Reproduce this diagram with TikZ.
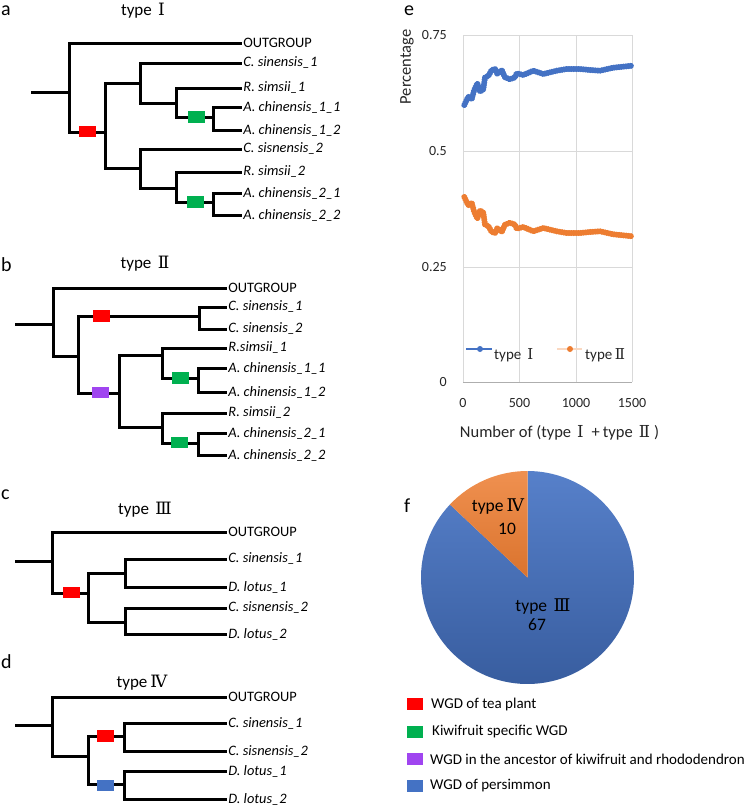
\documentclass[tikz,border=0pt]{standalone}
\usepackage{fontspec}
\setmainfont{Carlito}
\newfontfamily\romfont{DejaVu Serif}
\usetikzlibrary{decorations.markings}
\definecolor{wred}{HTML}{FF0000}
\definecolor{wgreen}{HTML}{00B050}
\definecolor{wpurple}{HTML}{A045F0}
\definecolor{wblue}{HTML}{4472C4}
\definecolor{cblue}{HTML}{4472C4}
\definecolor{corange}{HTML}{ED7D31}
\definecolor{gridc}{HTML}{D9D9D9}
\definecolor{txtc}{HTML}{262626}
\newcommand{\rI}{{\romfont\kern2.5pt Ⅰ}}
\newcommand{\rII}{{\romfont\kern2.5pt Ⅱ}}
\newcommand{\rIII}{{\romfont\kern2.5pt Ⅲ}}
\newcommand{\rIV}{{\romfont\kern3pt Ⅳ}}
\tikzset{
  edge/.style={line width=3pt, line join=miter},
  leaf/.style={anchor=west, inner sep=1.2pt, font=\fontsize{14.4}{16}\selectfont\itshape},
  leafup/.style={anchor=west, inner sep=1.2pt, font=\fontsize{14.4}{16}\selectfont},
  wgdbox/.style={draw=none, minimum width=17pt, minimum height=11.5pt, inner sep=0pt},
  panel/.style={anchor=west, inner sep=0pt, font=\fontsize{20}{22}\selectfont},
  ttl/.style={inner sep=0pt, font=\fontsize{17}{20}\selectfont},
  tick/.style={inner sep=0pt, text=txtc, font=\fontsize{14}{16}\selectfont},
  axtitle/.style={inner sep=0pt, text=txtc, font=\fontsize{16.5}{18}\selectfont},
  legtxt/.style={anchor=west, inner sep=0pt, font=\fontsize{15}{17}\selectfont},
  pielab/.style={inner sep=0pt, font=\fontsize{17.5}{20}\selectfont, align=center},
  dots/.style 2 args={postaction={decorate}, decoration={markings,
     mark=between positions 0 and 1 step #2 with {\fill[#1] (0,0) circle (3pt);}}}
}
\begin{document}
\begin{tikzpicture}[x=1pt, y=-1pt]
\useasboundingbox (0,0) rectangle (745,807);
\fill[white] (0,0) rectangle (745,807);

% ---------------- tree a ----------------
\node[panel] (la) at (1,11) {a};
\node[ttl] (ta) at (143,11) {type \rI};
\coordinate (a0) at (31,92);
\coordinate (aR) at (69,92);
\coordinate (aN1) at (105,132);
\coordinate (aN2) at (140,83);
\coordinate (aN3) at (176,103);
\coordinate (aN4) at (213,117);
\coordinate (aN5) at (140,168);
\coordinate (aN6) at (176,188);
\coordinate (aN7) at (213,202);
\node[leafup] (aOG) at (242,43) {OUTGROUP};
\node[leaf] (aCs1) at (242,63) {C. sinensis\_1};
\node[leaf] (aRs1) at (242,88) {R. simsii\_1};
\node[leaf] (aAc11) at (242,107) {A. chinensis\_1\_1};
\node[leaf] (aAc12) at (242,130) {A. chinensis\_1\_2};
\node[leaf] (aCs2) at (242,149) {C. sisnensis\_2};
\node[leaf] (aRs2) at (242,172) {R. simsii\_2};
\node[leaf] (aAc21) at (242,193) {A. chinensis\_2\_1};
\node[leaf] (aAc22) at (242,215) {A. chinensis\_2\_2};
\draw[edge] (a0) -- (aR);
\draw[edge] (aR) |- (aOG.west);
\draw[edge] (aR) |- (aN1);
\draw[edge] (aN1) |- (aN2);
\draw[edge] (aN1) |- (aN5);
\draw[edge] (aN2) |- (aCs1.west);
\draw[edge] (aN2) |- (aN3);
\draw[edge] (aN3) |- (aRs1.west);
\draw[edge] (aN3) |- (aN4);
\draw[edge] (aN4) |- (aAc11.west);
\draw[edge] (aN4) |- (aAc12.west);
\draw[edge] (aN5) |- (aCs2.west);
\draw[edge] (aN5) |- (aN6);
\draw[edge] (aN6) |- (aRs2.west);
\draw[edge] (aN6) |- (aN7);
\draw[edge] (aN7) |- (aAc21.west);
\draw[edge] (aN7) |- (aAc22.west);
\node[wgdbox, fill=wred] (aB1) at (87.5,131.5) {};
\node[wgdbox, fill=wgreen] (aB2) at (196.5,117) {};
\node[wgdbox, fill=wgreen] (aB3) at (195.5,202) {};

% ---------------- tree b ----------------
\node[panel] (lb) at (1,265) {b};
\node[ttl] (tb) at (145,264) {type \rII};
\coordinate (b0) at (15,324);
\coordinate (bR) at (53,324);
\coordinate (bN1) at (78,356);
\coordinate (bN2) at (199,316);
\coordinate (bN3) at (119,393);
\coordinate (bN4) at (162,355);
\coordinate (bN5) at (198,378);
\coordinate (bN6) at (162,427);
\coordinate (bN7) at (198,443);
\node[leafup] (bOG) at (227,288) {OUTGROUP};
\node[leaf] (bCs1) at (227,307) {C. sinensis\_1};
\node[leaf] (bCs2) at (227,329) {C. sinensis\_2};
\node[leaf] (bRs1) at (227,348) {R.simsii\_1};
\node[leaf] (bAc11) at (227,368) {A. chinensis\_1\_1};
\node[leaf] (bAc12) at (227,392) {A. chinensis\_1\_2};
\node[leaf] (bRs2) at (227,413) {R. simsii\_2};
\node[leaf] (bAc21) at (227,433) {A. chinensis\_2\_1};
\node[leaf] (bAc22) at (227,455) {A. chinensis\_2\_2};
\draw[edge] (b0) -- (bR);
\draw[edge] (bR) |- (bOG.west);
\draw[edge] (bR) |- (bN1);
\draw[edge] (bN1) |- (bN2);
\draw[edge] (bN1) |- (bN3);
\draw[edge] (bN2) |- (bCs1.west);
\draw[edge] (bN2) |- (bCs2.west);
\draw[edge] (bN3) |- (bN4);
\draw[edge] (bN3) |- (bN6);
\draw[edge] (bN4) |- (bRs1.west);
\draw[edge] (bN4) |- (bN5);
\draw[edge] (bN5) |- (bAc11.west);
\draw[edge] (bN5) |- (bAc12.west);
\draw[edge] (bN6) |- (bRs2.west);
\draw[edge] (bN6) |- (bN7);
\draw[edge] (bN7) |- (bAc21.west);
\draw[edge] (bN7) |- (bAc22.west);
\node[wgdbox, fill=wred] (bB1) at (101.5,316) {};
\node[wgdbox, fill=wpurple] (bB2) at (100,392.5) {};
\node[wgdbox, fill=wgreen] (bB3) at (180,378) {};
\node[wgdbox, fill=wgreen] (bB4) at (179,442.5) {};

% ---------------- tree c ----------------
\node[panel] (lc) at (1,495) {c};
\node[ttl] (tc) at (145,510) {type \rIII};
\coordinate (c0) at (15,561);
\coordinate (cR) at (52,561);
\coordinate (cN1) at (88,593);
\coordinate (cN2) at (125,573);
\coordinate (cN3) at (125,622);
\node[leafup] (cOG) at (227,532) {OUTGROUP};
\node[leaf] (cCs1) at (227,559) {C. sinensis\_1};
\node[leaf] (cDl1) at (227,587) {D. lotus\_1};
\node[leaf] (cCs2) at (227,608) {C. sisnensis\_2};
\node[leaf] (cDl2) at (227,634) {D. lotus\_2};
\draw[edge] (c0) -- (cR);
\draw[edge] (cR) |- (cOG.west);
\draw[edge] (cR) |- (cN1);
\draw[edge] (cN1) |- (cN2);
\draw[edge] (cN1) |- (cN3);
\draw[edge] (cN2) |- (cCs1.west);
\draw[edge] (cN2) |- (cDl1.west);
\draw[edge] (cN3) |- (cCs2.west);
\draw[edge] (cN3) |- (cDl2.west);
\node[wgdbox, fill=wred] (cB1) at (71.5,592.5) {};

% ---------------- tree d ----------------
\node[panel] (ld) at (1,662) {d};
\node[ttl] (td) at (142,683) {type\rIV};
\coordinate (d0) at (15,725);
\coordinate (dR) at (52,725);
\coordinate (dN1) at (88,756);
\coordinate (dN2) at (124,736);
\coordinate (dN3) at (124,784);
\node[leafup] (dOG) at (227,697) {OUTGROUP};
\node[leaf] (dCs1) at (227,723) {C. sinensis\_1};
\node[leaf] (dCs2) at (227,751) {C. sisnensis\_2};
\node[leaf] (dDl1) at (227,771) {D. lotus\_1};
\node[leaf] (dDl2) at (227,799) {D. lotus\_2};
\draw[edge] (d0) -- (dR);
\draw[edge] (dR) |- (dOG.west);
\draw[edge] (dR) |- (dN1);
\draw[edge] (dN1) |- (dN2);
\draw[edge] (dN1) |- (dN3);
\draw[edge] (dN2) |- (dCs1.west);
\draw[edge] (dN2) |- (dCs2.west);
\draw[edge] (dN3) |- (dDl1.west);
\draw[edge] (dN3) |- (dDl2.west);
\node[wgdbox, fill=wred] (dB1) at (105.5,736) {};
\node[wgdbox, fill=wblue] (dB2) at (105,785.5) {};

% ---------------- chart e ----------------
\node[panel] (le) at (404,11) {e};
\foreach \gx in {463,519.5,576,632} \draw[gridc, line width=0.8pt] (\gx,35) -- (\gx,382);
\foreach \gy in {35,151,267} \draw[gridc, line width=0.8pt] (463,\gy) -- (632,\gy);
\draw[gridc!80!black, line width=0.9pt] (463,382) -- (632,382);
\node[tick, anchor=east] (y75) at (447,35) {0.75};
\node[tick, anchor=east] (y50) at (447,151) {0.5};
\node[tick, anchor=east] (y25) at (447,267) {0.25};
\node[tick, anchor=east] (y00) at (447,382) {0};
\node[tick] (x0) at (463,403) {0};
\node[tick] (x500) at (519.5,403) {500};
\node[tick] (x1000) at (576,403) {1000};
\node[tick] (x1500) at (632,403) {1500};
\node[axtitle] (xt) at (559.5,433) {Number of (type\kern6pt{\romfont Ⅰ}\kern8pt+\kern3pt type\kern6pt{\romfont Ⅱ}\kern4pt)};
\node[axtitle, rotate=90] (yt) at (407,67) {Percentage};
% orange series (type II)
\path[dots={corange}{2.4pt}] (464.3,197) -- (468.3,205.3) -- (471.7,202.7) -- (474,211.3) -- (477.3,218.7) -- (480,210.3) -- (483.3,212.7) -- (485,224.7) -- (488.3,226) -- (491.7,232) -- (495,233) -- (497.3,228) -- (501.7,232) -- (505,224.7) -- (510,222.7) -- (515,224.7) -- (516.7,228.7) -- (523.3,227) -- (533.3,231.3) -- (543.3,228) -- (556.7,231.3) -- (566.7,233) -- (580,233) -- (590,232) -- (600,231.3) -- (613.3,234.3) -- (632.3,236.3);
% blue series (type I)
\draw[cblue, line width=1.3pt, dots={cblue}{2.4pt}] (464.3,105) -- (468.3,96.7) -- (471.7,99.3) -- (474,90.7) -- (477.3,83.3) -- (480,91.7) -- (483.3,89.3) -- (485,77.3) -- (488.3,76) -- (491.7,70) -- (495,69) -- (497.3,74) -- (501.7,70) -- (505,77.3) -- (510,79.3) -- (515,77.3) -- (516.7,73.3) -- (523.3,75) -- (533.3,70.7) -- (543.3,74) -- (556.7,70.7) -- (566.7,69) -- (580,69) -- (590,70) -- (600,70.7) -- (613.3,67.7) -- (632.3,65.7);
% legend of chart
\coordinate (lg1a) at (466,349);
\coordinate (lg1b) at (492,349);
\draw[cblue, line width=1.4pt] (lg1a) -- (lg1b);
\fill[cblue] (480,349) circle (3pt);
\node[tick, anchor=west, font=\fontsize{15}{17}\selectfont] (lg1t) at (494,355) {type \rI};
\coordinate (lg2a) at (557,349);
\coordinate (lg2b) at (582,349);
\draw[corange!30, line width=1.4pt] (lg2a) -- (lg2b);
\fill[corange] (570,349) circle (3pt);
\node[tick, anchor=west, font=\fontsize{15}{17}\selectfont] (lg2t) at (585,355) {type\rII};

% ---------------- pie f ----------------
\node[panel] (lf) at (404,506) {f};
\coordinate (pc) at (527.5,577.5);
\shade[top color=cblue!90!white, bottom color=cblue!80!black] (pc) -- ++(-136.75:106.5) arc[start angle=-136.75, end angle=-450, radius=106.5] -- cycle;
\shade[top color=corange!85!white, bottom color=corange!92!black] (pc) -- ++(-90:106.5) arc[start angle=-90, end angle=-136.75, radius=106.5] -- cycle;
\node[pielab] (p4) at (498,507) {type\rIV};
\node[pielab] (p4n) at (507,529) {10};
\node[pielab] (p3) at (543,607) {type \rIII};
\node[pielab] (p3n) at (537,625) {67};

% ---------------- legend ----------------
\fill[wred] (407,698) rectangle (423,710);
\node[legtxt] (k1) at (431,704) {WGD of tea plant};
\fill[wgreen] (407,726) rectangle (423,738);
\node[legtxt] (k2) at (432,732) {Kiwifruit specific WGD};
\fill[wpurple] (407,753) rectangle (423,765);
\node[legtxt] (k3) at (430,759) {WGD in the ancestor of kiwifruit and rhododendron};
\fill[wblue] (407,780) rectangle (423,792);
\node[legtxt] (k4) at (430,786) {WGD of persimmon};
\end{tikzpicture}
\end{document}
